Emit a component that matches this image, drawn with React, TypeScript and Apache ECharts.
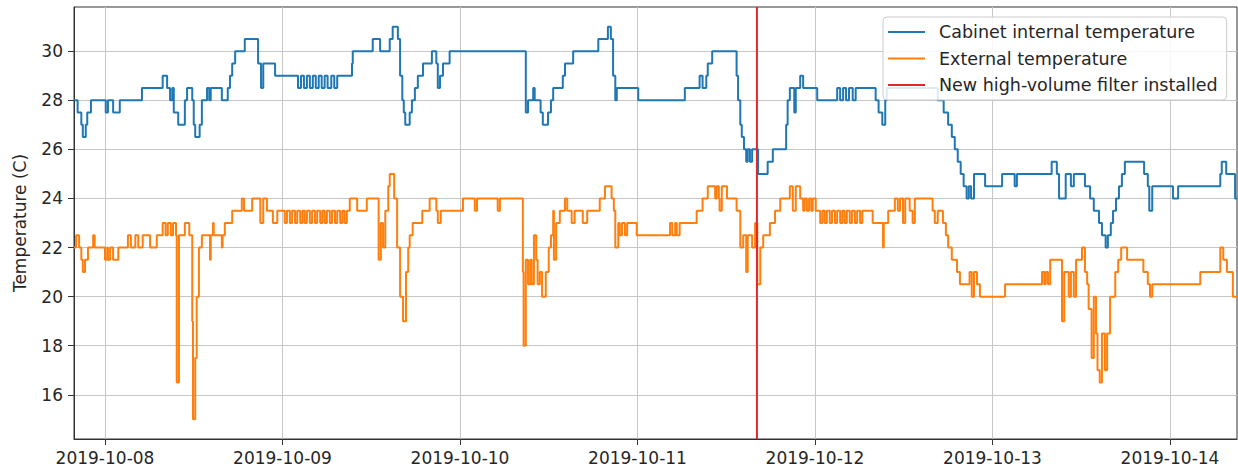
import React, { useEffect, useRef } from 'react';
import * as echarts from 'echarts';

// Hours measured from 2019-10-08 00:00 (local time)
const baseDay = '2019-10-08T00:00:00';
const dayLabels = ['2019-10-08', '2019-10-09', '2019-10-10', '2019-10-11', '2019-10-12', '2019-10-13', '2019-10-14'];
const yTicks = [16, 18, 20, 22, 24, 26, 28, 30];
const yMin = 14.2;
const yMax = 31.8;
const xStartHours = -4.19;
const xEndHours = 153.06;
const filterInstalledHours = 88.15;

const internalHours = [
  -4.2, -3.7, -3.2, -3.0, -2.6, -2.4, -1.9, 0.1, 0.4, 1.1, 2.0, 5.0, 7.8, 8.4, 8.8, 9.1, 9.3, 9.9, 10.8, 11.1,
  11.8, 12.0, 12.2, 12.8, 13.1, 13.8, 14.1, 14.3, 15.8, 16.6, 16.9, 17.2, 17.6, 18.9, 20.7, 21.1, 21.4, 23.0,
  26.1, 26.5, 26.9, 27.3, 27.7, 28.1, 28.5, 28.9, 29.3, 29.7, 30.1, 30.6, 31.0, 31.4, 33.4, 33.5, 36.2, 37.2,
  38.5, 38.9, 39.6, 39.9, 40.2, 40.4, 40.6, 41.2, 41.5, 41.9, 42.3, 43.0, 44.2, 44.8, 45.0, 45.3, 45.7, 46.6,
  56.9, 57.2, 57.9, 58.1, 58.9, 59.2, 59.9, 60.3, 60.6, 61.9, 62.2, 63.3, 66.7, 68.0, 68.4, 68.7, 69.0, 69.2,
  72.1, 78.4, 80.4, 80.8, 81.3, 81.5, 82.1, 85.4, 85.6, 85.9, 86.1, 86.4, 86.7, 86.9, 87.2, 87.5, 88.3, 89.6,
  90.3, 92.1, 92.3, 92.6, 93.2, 93.4, 94.0, 94.4, 96.3, 99.0, 99.4, 99.8, 100.2, 100.6, 101.1, 101.5, 104.2,
  104.6, 105.1, 105.5, 105.7, 112.6, 113.4, 114.0, 114.5, 114.9, 115.3, 115.7, 116.1, 116.5, 116.8, 117.1,
  117.5, 119.0, 121.3, 123.0, 123.3, 128.0, 128.7, 129.0, 129.9, 130.6, 131.0, 132.5, 133.2, 133.7, 134.4,
  134.8, 135.3, 135.6, 136.0, 136.3, 136.7, 137.1, 137.5, 137.9, 140.5, 141.0, 141.2, 141.6, 144.4, 145.1,
  150.8, 151.0, 151.6, 152.8, 153.1,
];
const internalTemp = [
  28, 27.5, 27, 26.5, 27, 27.5, 28, 27.5, 28, 27.5, 28, 28.5, 29, 28.5, 28, 28.5, 27.5, 27, 28, 28.5,
  28, 27, 26.5, 27, 28, 28.5, 28, 28.5, 28, 28.5, 29, 29.5, 30, 30.5, 29.5, 28.5, 29.5, 29,
  28.5, 29, 28.5, 29, 28.5, 29, 28.5, 29, 28.5, 29, 28.5, 29, 28.5, 29, 29.5, 30, 30.5, 30,
  30.5, 31, 30.5, 29, 28, 27.5, 27, 27.5, 28, 28.5, 29, 29.5, 30, 29.5, 28.5, 29, 29.5, 30,
  27.5, 28, 28.5, 28, 27.5, 27, 27.5, 28, 28.5, 29, 29.5, 30, 30.5, 31, 30.5, 29, 28, 28.5,
  28, 28.5, 29, 28.5, 29, 29.5, 30, 29, 28, 27, 26.5, 26, 25.5, 26, 25.5, 26, 25, 25.5,
  26, 27, 28, 28.5, 27.5, 28.5, 29, 28.5, 28, 28.5, 28, 28.5, 28, 28.5, 28, 28.5, 28,
  27.5, 27, 28, 28.5, 28, 27.5, 27, 26.5, 26, 25.5, 25, 24.5, 24, 24.5, 24,
  25, 24.5, 25, 24.5, 25, 25.5, 25, 24, 25, 24.5, 25, 24.5, 24, 23.5, 23,
  22.5, 22, 22.5, 23, 23.5, 24, 24.5, 25, 25.5, 25, 24.5, 23.5, 24.5, 24, 24.5,
  25, 25.5, 25, 24, 24,
];

const externalHours = [
  -4.2, -3.9, -3.5, -3.2, -3.0, -2.7, -2.3, -1.6, -1.4, 0.0, 0.3, 0.4, 0.7, 1.1, 1.8, 3.1, 3.5, 4.1, 4.5, 5.1,
  6.1, 7.0, 7.8, 8.2, 8.5, 8.9, 9.2, 9.6, 9.7, 10.0, 10.8, 11.4, 11.8, 11.9, 12.2, 12.4, 12.7, 13.1, 14.2,
  14.3, 14.6, 14.7, 15.8, 15.9, 16.2, 17.2, 18.5, 18.8, 19.9, 21.0, 21.4, 21.9, 22.7, 23.3,
  24.3, 24.6, 25.0, 25.3, 25.7, 26.0, 26.4, 26.7, 27.0, 27.3, 27.7, 28.0, 28.4, 28.7, 29.1, 29.4, 29.7, 30.0,
  30.4, 30.7, 31.1, 31.4, 31.8, 32.1, 32.4, 32.7,
  33.1, 34.1, 35.4, 37.0, 37.3, 37.6, 37.9, 38.3, 38.5, 39.1, 39.5, 39.9, 40.3, 40.7, 41.0, 41.2, 41.6, 42.9,
  43.9, 44.8, 45.0, 45.4, 48.4, 50.0, 50.3, 53.1, 53.4, 56.5, 56.6, 56.9, 57.2, 57.5, 57.7, 58.0, 58.3, 58.5,
  58.8, 59.1, 59.6, 60.0, 60.3, 60.6, 60.7, 61.0, 61.5, 62.2, 62.5, 63.1, 63.5, 64.6, 65.2, 66.9, 67.6, 68.5,
  68.8, 69.0, 69.4, 69.6, 69.9, 70.3, 70.6, 71.9, 76.4, 76.7, 77.1, 77.3, 77.7, 80.0, 80.8, 81.5, 82.5, 82.7,
  83.0, 83.1, 83.4, 84.1, 85.4, 85.9, 86.3, 86.7, 86.9, 87.5, 87.9, 88.2, 88.6, 89.0, 89.9, 90.6, 91.3, 92.6,
  93.0, 93.4, 94.0, 94.4, 94.6, 94.9, 95.2, 95.5, 95.7, 96.1,
  96.7, 97.0, 97.3, 97.6, 98.0, 98.3, 98.7, 99.0, 99.4, 99.7, 100.0, 100.3, 100.7, 101.0, 101.4, 101.7, 102.1, 102.4,
  103.8, 105.2, 105.3, 105.9, 106.8, 107.2, 107.5, 107.9, 108.2, 108.8, 109.2, 109.5, 111.9, 112.2, 112.6,
  113.3, 113.7, 114.0, 114.5, 115.2, 115.6, 116.9, 117.2, 117.5, 117.9, 118.3, 121.7, 126.7, 127.0, 127.2,
  127.5, 127.8, 129.4, 129.7, 130.3, 130.6, 131.0, 131.3, 132.1, 132.5, 132.8, 133.0, 133.4, 133.7, 134.0,
  134.2, 134.5, 134.8, 135.2, 135.5, 135.9, 136.6, 137.0, 137.4, 138.2, 140.4, 141.0, 141.3, 141.6, 148.1,
  150.8, 151.2, 151.7, 152.5, 153.1,
];
const externalTemp = [
  22, 22.5, 22, 21.5, 21, 21.5, 22, 22.5, 22, 21.5, 22, 21.5, 22, 21.5, 22, 22.5, 22, 22.5, 22, 22.5,
  22, 22.5, 23, 22.5, 23, 22.5, 23, 22.5, 16.5, 22.5, 23, 22.5, 19, 15, 17.5, 20, 22, 22.5, 21.5,
  22.5, 23, 22.5, 22, 22.5, 23, 23.5, 24, 23.5, 24, 23, 24, 23.5, 23, 23.5,
  23, 23.5, 23, 23.5, 23, 23.5, 23, 23.5, 23, 23.5, 23, 23.5, 23, 23.5, 23, 23.5, 23, 23.5,
  23, 23.5, 23, 23.5, 23, 23.5, 23, 23.5,
  24, 23.5, 24, 21.5, 23, 22, 23.5, 24.5, 25, 24, 22, 20, 19, 21, 22, 22.5, 23, 23.5,
  24, 23.5, 23, 23.5, 24, 23.5, 24, 23.5, 24, 21, 18, 21.5, 20.5, 21.5, 20.5, 22.5, 21.5, 20.5,
  21, 20, 21, 22, 22.5, 23.5, 21.5, 23, 23.5, 24, 23.5, 23, 23.5, 23, 23.5, 24, 24.5, 24,
  23.5, 22, 23, 22.5, 23, 22.5, 23, 22.5, 23, 22.5, 23, 22.5, 23, 23.5, 24, 24.5, 24, 24.5,
  24, 23.5, 24.5, 24, 23.5, 22, 22.5, 21, 22.5, 22, 23, 20.5, 22, 22.5, 23, 23.5, 24, 24.5,
  23.5, 24.5, 24, 23.5, 24, 23.5, 24, 23.5, 24, 23.5,
  23, 23.5, 23, 23.5, 23, 23.5, 23, 23.5, 23, 23.5, 23, 23.5, 23, 23.5, 23, 23.5, 23, 23.5,
  23, 22, 23, 23.5, 24, 23.5, 24, 23, 24, 23.5, 23, 24, 23.5, 23, 23.5,
  23, 22.5, 22, 21.5, 21, 20.5, 21, 20, 21, 20.5, 20, 20.5, 21, 20.5, 21,
  20.5, 21.5, 19, 21, 20, 21, 20, 21.5, 22, 21, 20.5, 19.5, 17.5, 20, 18.5,
  17, 16.5, 18.5, 17, 18.5, 20, 21, 21.5, 22, 21.5, 21, 20.5, 20, 20.5, 21,
  22, 21.5, 21, 20, 20,
];

const seriesNames = ['Cabinet internal temperature', 'External temperature', 'New high-volume filter installed'];
const seriesColors = ['#1f77b4', '#ff7f0e', '#e8262a'];

const FONT = 'DejaVu Sans';
const TEXT = '#262626';

export default function App() {
  const ref = useRef<HTMLDivElement>(null);

  useEffect(() => {
    if (!ref.current) return;
    const chart = echarts.init(ref.current, null, { renderer: 'svg' });
    const HOUR = 3600 * 1000;
    const base = new Date(baseDay).getTime();
    const ts = (h: number) => base + h * HOUR;
    const dayTicks = dayLabels.map((d) => new Date(d + 'T00:00:00').getTime());
    const internal = internalHours.map((h, i) => [ts(h), internalTemp[i]]);
    const external = externalHours.map((h, i) => [ts(h), externalTemp[i]]);
    const filterLine = [
      [ts(filterInstalledHours), yMin],
      [ts(filterInstalledHours), yMax],
    ];

    chart.setOption({
      animation: false,
      backgroundColor: '#ffffff',
      textStyle: { fontFamily: FONT },
      grid: {
        left: 74,
        right: 1,
        top: 7,
        bottom: 32,
        show: true,
        borderColor: '#333',
        borderWidth: 1,
      },
      legend: {
        left: 883,
        top: 17,
        orient: 'vertical',
        icon: 'rect',
        itemWidth: 37,
        itemHeight: 2,
        itemGap: 6.5,
        padding: [5, 9, 5, 5],
        backgroundColor: 'rgba(255,255,255,0.85)',
        borderColor: '#cccccc',
        borderWidth: 1,
        borderRadius: 4,
        data: seriesNames,
        selectedMode: false,
        textStyle: {
          fontFamily: FONT,
          fontSize: 17.5,
          color: TEXT,
          lineHeight: 20,
          padding: [0, 0, 0, 9],
        },
      },
      xAxis: {
        type: 'time',
        min: ts(xStartHours),
        max: ts(xEndHours),
        axisLine: { show: true, lineStyle: { color: '#333', width: 1 } },
        axisTick: { show: true, length: 6, lineStyle: { color: '#333' }, customValues: dayTicks },
        axisLabel: {
          customValues: dayTicks,
          formatter: '{yyyy}-{MM}-{dd}',
          fontFamily: FONT,
          fontSize: 17,
          color: TEXT,
          margin: 10,
          hideOverlap: false,
        },
        splitLine: { show: true, lineStyle: { color: '#c6c6c6', width: 1 } },
      },
      yAxis: {
        type: 'value',
        min: yMin,
        max: yMax,
        name: 'Temperature (C)',
        nameLocation: 'middle',
        nameGap: 46,
        nameTextStyle: { fontFamily: FONT, fontSize: 17, color: TEXT },
        axisLine: { show: true, lineStyle: { color: '#333', width: 1 } },
        axisTick: { show: true, length: 6, lineStyle: { color: '#333' }, customValues: yTicks },
        axisLabel: {
          customValues: yTicks,
          fontFamily: FONT,
          fontSize: 17,
          color: TEXT,
          margin: 11,
        },
        splitLine: { show: true, lineStyle: { color: '#c6c6c6', width: 1 } },
      },
      series: [
        {
          name: seriesNames[0],
          type: 'line',
          step: 'end',
          data: internal,
          showSymbol: false,
          color: seriesColors[0],
          lineStyle: { width: 2, color: seriesColors[0] },
        },
        {
          name: seriesNames[1],
          type: 'line',
          step: 'end',
          data: external,
          showSymbol: false,
          color: seriesColors[1],
          lineStyle: { width: 2, color: seriesColors[1] },
        },
        {
          name: seriesNames[2],
          type: 'line',
          data: filterLine,
          showSymbol: false,
          color: seriesColors[2],
          lineStyle: { width: 2, color: seriesColors[2] },
        },
      ],
    });

    return () => chart.dispose();
  }, []);

  return (
    <div
      ref={ref}
      style={{ position: 'fixed', left: 0, top: 0, width: 1238, height: 471, background: '#fff' }}
    />
  );
}
